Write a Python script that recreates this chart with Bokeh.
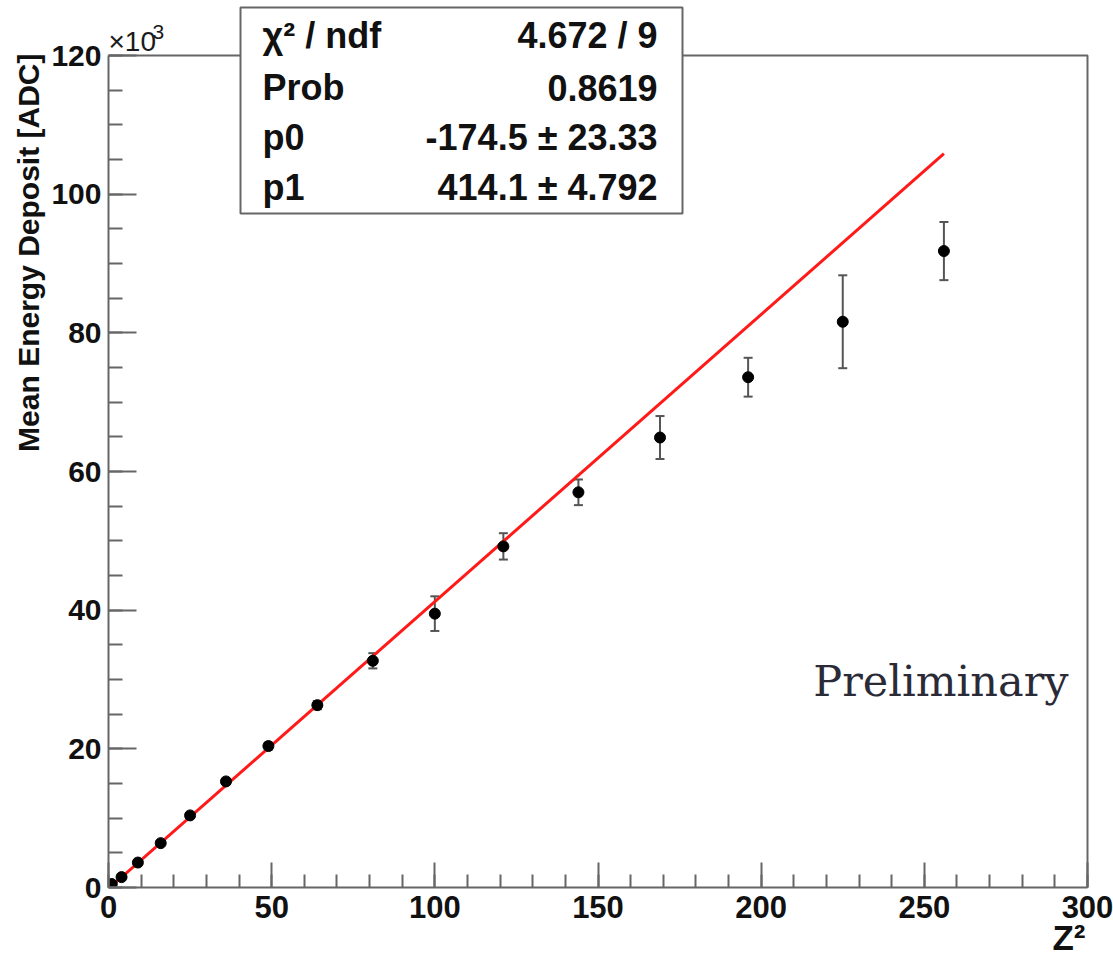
import math
from bokeh.plotting import figure
from bokeh.models import Range1d, FixedTicker, Label, Whisker, ColumnDataSource, TeeHead, Title
from bokeh.core.properties import value
from bokeh.embed import file_html
from bokeh.resources import INLINE

# ---------------- data ----------------
z2 = [1, 4, 9, 16, 25, 36, 49, 64, 81, 100, 121, 144, 169, 196, 225, 256]
mean_edep_k = [0.5, 1.5, 3.6, 6.4, 10.4, 15.3, 20.4, 26.3, 32.7, 39.5, 49.2, 57.0, 64.9, 73.6, 81.6, 91.8]
edep_err_k = [0.1, 0.15, 0.2, 0.3, 0.35, 0.4, 0.5, 0.6, 1.1, 2.5, 1.9, 1.85, 3.1, 2.8, 6.7, 4.2]

fit_p0 = -174.5
fit_p1 = 414.1
fit_range = [0, 256]

x_ticks = [0, 50, 100, 150, 200, 250, 300]
y_ticks = [0, 20, 40, 60, 80, 100, 120]

stat_names = ["\u03c7\u00b2 / ndf", "Prob", "p0", "p1"]
stat_values = ["4.672 / 9", "0.8619", "-174.5 \u00b1 23.33", "414.1 \u00b1 4.792"]

x_label = "Z\u00b2"
y_label = "Mean Energy Deposit [ADC]"
y_scale_base = "\u00d710"
y_scale_exp = "3"
watermark = "Preliminary"

# ---------------- layout ----------------
W, H = 1113, 963
left_b, right_b, bottom_b = 108, 24, 76
frame_w = W - left_b - right_b
frame_h = H - bottom_b
px_per_x = 979 / 300.0
px_per_y = 832 / 120.0
x_end = frame_w / px_per_x
y_end = frame_h / px_per_y

def ypx(py):
    # pixel row (from top of canvas) -> data y
    return (frame_h - py) / px_per_y

def xpx(px):
    return (px - left_b) / px_per_x

p = figure(width=W, height=H, output_backend="svg", toolbar_location=None,
           x_range=Range1d(0, x_end), y_range=Range1d(0, y_end),
           min_border_left=left_b, min_border_right=right_b,
           min_border_top=0, min_border_bottom=bottom_b)
p.outline_line_color = None
p.grid.visible = False
p.background_fill_color = "white"
p.border_fill_color = "white"

axis_col = "#666666"
for ax, ticks, step_minor, bounds in ((p.xaxis[0], x_ticks, 10, (0, 300)),
                                      (p.yaxis[0], y_ticks, 5, (0, 120))):
    ax.ticker = FixedTicker(ticks=ticks,
                            minor_ticks=list(range(bounds[0], bounds[1] + 1, step_minor)))
    ax.bounds = bounds
    ax.axis_line_color = axis_col
    ax.axis_line_width = 2
    ax.major_tick_line_color = axis_col
    ax.major_tick_line_width = 2
    ax.minor_tick_line_color = axis_col
    ax.minor_tick_line_width = 2
    ax.major_tick_out = 0
    ax.minor_tick_out = 0
    ax.major_label_text_font = "Liberation Sans"
    ax.major_label_text_font_style = "bold"
    ax.major_label_text_color = "#111111"

p.xaxis.major_label_text_font_size = "31px"
p.yaxis.major_label_text_font_size = "30px"
p.xaxis.major_tick_in = 25
p.xaxis.minor_tick_in = 13
p.yaxis.major_tick_in = 28
p.yaxis.minor_tick_in = 14
p.xaxis.major_label_standoff = 8
p.yaxis.major_label_standoff = 7

# axis titles (ROOT style: aligned to the far end of each axis)
p.add_layout(Title(text=y_label, align="right", offset=53, standoff=7,
                   text_font="Liberation Sans", text_font_style="bold",
                   text_font_size="30px", text_color="#111111"), "left")
p.add_layout(Title(text=x_label, align="right", offset=4, standoff=-10,
                   text_font="Liberation Sans", text_font_style="bold",
                   text_font_size="35px", text_color="#111111"), "below")

# frame top and right edges
p.line(x=[0, 300, 300], y=[120, 120, 0], line_color=axis_col, line_width=2)

# fit line
fit_y = [(fit_p0 + fit_p1 * x) / 1000.0 for x in fit_range]
p.line(x=fit_range, y=fit_y, line_color="#ff1a1a", line_width=3)

# error bars
src = ColumnDataSource(dict(
    x=z2, y=mean_edep_k,
    lower=[v - e for v, e in zip(mean_edep_k, edep_err_k)],
    upper=[v + e for v, e in zip(mean_edep_k, edep_err_k)]))
wh = Whisker(source=src, base="x", upper="upper", lower="lower",
             line_color="#555555", line_width=2,
             upper_head=TeeHead(size=9, line_color="#555555", line_width=2),
             lower_head=TeeHead(size=9, line_color="#555555", line_width=2))
p.add_layout(wh)
p.scatter(x="x", y="y", source=src, size=11, marker="circle",
          fill_color="black", line_color="black")

# stats box
box_l, box_r, box_t, box_b = xpx(240), xpx(682), ypx(7), ypx(213)
p.quad(left=[box_l], right=[box_r], top=[box_t], bottom=[box_b],
       fill_color="white", line_color="#666666", line_width=2)
row_px = [35, 87, 137, 187]
p.text(x=[xpx(262)] * 4, y=[ypx(r) for r in row_px], text=stat_names,
       text_font=value("Liberation Sans"), text_font_style="bold",
       text_font_size="36px", text_align="left", text_baseline="middle",
       text_color="#111111")
p.text(x=[xpx(657)] * 4, y=[ypx(r) for r in row_px], text=stat_values,
       text_font=value("Liberation Sans"), text_font_style="bold",
       text_font_size="36px", text_align="right", text_baseline="middle",
       text_color="#111111")

# scale factor label  (x10^3)
p.add_layout(Label(x=xpx(108), y=ypx(41), text=y_scale_base,
                   text_font="Liberation Sans", text_font_size="28px",
                   text_color="#1a1a1a", text_baseline="middle"))
p.add_layout(Label(x=xpx(152), y=ypx(31), text=y_scale_exp,
                   text_font="Liberation Sans", text_font_size="21px",
                   text_color="#1a1a1a", text_baseline="middle"))

# watermark
p.add_layout(Label(x=xpx(1068), y=ypx(680), text=watermark,
                   text_font="DejaVu Serif", text_font_size="43px",
                   text_align="right", text_baseline="middle",
                   text_color="#2b2b38"))

open("out.html", "w").write(file_html(p, INLINE))
